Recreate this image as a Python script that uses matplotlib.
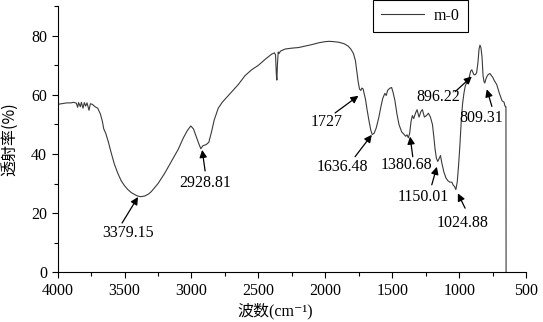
import matplotlib
matplotlib.use("Agg")
import matplotlib.pyplot as plt
from matplotlib.ticker import MultipleLocator

# IR spectrum of sample m-0
wavenumber = [4000, 3970, 3930, 3900, 3880, 3860, 3850, 3843, 3830, 3822, 3810, 3800,
              3790, 3780, 3765, 3755, 3740, 3720, 3700, 3680, 3665, 3655, 3640, 3620,
              3600, 3575, 3550, 3525, 3500, 3475, 3450, 3420, 3400, 3379, 3350, 3320,
              3300, 3250, 3200, 3150, 3100, 3060, 3030, 3005, 2985, 2965, 2945, 2930,
              2915, 2890, 2870, 2850, 2830, 2800, 2770, 2740, 2700, 2650, 2600, 2550,
              2500, 2450, 2400, 2380, 2372, 2366, 2362, 2358, 2352, 2345, 2335, 2300,
              2250, 2200, 2150, 2100, 2050, 2000, 1970, 1940, 1900, 1860, 1830, 1810,
              1790, 1775, 1765, 1755, 1745, 1735, 1727, 1718, 1710, 1700, 1690, 1675,
              1660, 1650, 1636, 1620, 1600, 1585, 1570, 1555, 1545, 1535, 1520, 1505,
              1495, 1480, 1465, 1450, 1430, 1415, 1400, 1390, 1380, 1370, 1360, 1350,
              1340, 1325, 1315, 1300, 1285, 1275, 1260, 1245, 1230, 1215, 1200, 1190,
              1180, 1170, 1160, 1150, 1140, 1130, 1115, 1100, 1085, 1070, 1055, 1045,
              1035, 1025, 1015, 1005, 995, 985, 975, 965, 955, 940, 925, 915, 906, 900,
              890, 880, 870, 860, 852, 845, 838, 830, 822, 815, 809, 800, 790, 780, 770,
              760, 750, 740, 720, 700, 680, 665, 660, 655, 651, 650]
transmittance = [56.8, 57.0, 57.3, 57.3, 57.5, 57.2, 55.8, 57.4, 56.0, 57.5, 55.5, 57.4,
                 56.2, 57.3, 54.8, 57.0, 56.8, 56.0, 55.5, 53.5, 51.0, 48.5, 47.0, 44.0,
                 40.5, 36.5, 33.5, 31.0, 29.3, 28.0, 27.0, 26.2, 25.8, 25.6, 25.8, 26.5,
                 27.3, 30.0, 33.5, 37.5, 41.5, 45.5, 48.0, 49.5, 48.5, 46.0, 43.5, 41.8,
                 42.8, 43.2, 44.0, 47.5, 51.5, 55.5, 57.5, 59.0, 61.0, 63.5, 66.5, 68.5,
                 70.0, 72.0, 73.8, 74.2, 73.5, 67.0, 65.0, 70.0, 74.5, 74.0, 74.8, 75.5,
                 75.8, 76.0, 76.5, 77.0, 77.6, 78.0, 78.1, 78.0, 77.8, 77.3, 76.5, 75.5,
                 74.0, 71.5, 68.0, 64.5, 62.0, 61.5, 62.3, 62.0, 60.5, 58.5, 55.5, 51.5,
                 48.0, 46.6, 47.0, 48.8, 52.5, 56.0, 59.0, 60.5, 59.8, 61.5, 62.2, 62.5,
                 61.0, 58.0, 53.5, 50.0, 47.5, 46.8, 46.0, 46.5, 45.5, 47.0, 51.0, 53.0,
                 52.0, 54.0, 55.0, 52.5, 54.5, 55.0, 52.5, 53.0, 53.8, 52.5, 50.0, 46.0,
                 41.5, 38.5, 37.5, 38.5, 39.5, 37.0, 34.0, 32.0, 31.0, 30.5, 30.5, 29.5,
                 29.0, 28.0, 30.5, 36.0, 43.0, 51.0, 57.0, 60.5, 63.0, 64.5, 66.0, 68.0,
                 68.5, 67.8, 66.8, 66.8, 67.5, 71.0, 75.5, 76.8, 76.0, 73.0, 66.5, 64.5,
                 64.0, 65.5, 66.5, 67.0, 67.2, 66.5, 66.0, 65.0, 63.5, 60.5, 58.0, 57.5,
                 56.5, 56.0, 56.0, 0.0]

# peak labels: text, text centre, arrow tail and arrow tip
peak_labels = ["3379.15", "2928.81", "1727", "1636.48", "1380.68",
               "1150.01", "1024.88", "896.22", "809.31"]
text_x = [3473, 2898, 1989, 1869, 1391, 1272, 973, 1155, 839]
text_y = [13.3, 30.3, 51.0, 35.7, 36.3, 25.6, 16.6, 59.4, 52.1]
tail_x = [3518, 2898, 1927, 1778, 1347, 1205, 956, 1030, 756]
tail_y = [16.7, 34.3, 53.9, 39.1, 39.1, 29.6, 21.7, 61.1, 56.1]
tip_x = [3399, 2920, 1753, 1653, 1367, 1167, 1010, 906, 794]
tip_y = [25.5, 41.4, 59.7, 46.5, 45.9, 35.7, 26.7, 66.2, 61.9]

plt.rcParams['font.family'] = ['Liberation Serif', 'Noto Sans CJK SC', 'DejaVu Serif']
plt.rcParams['font.size'] = 11.5

fig = plt.figure(figsize=(5.43, 3.22), dpi=100)
ax = fig.add_axes([0.106, 0.154, 0.863, 0.827])

ax.plot(wavenumber, transmittance, color='#3a3a3a', lw=0.8, label='m-0')

for lab, px, py in zip(peak_labels, text_x, text_y):
    ax.text(px, py, lab, ha='center', va='center')
for ax0, ay0, ax1, ay1 in zip(tail_x, tail_y, tip_x, tip_y):
    ax.annotate('', xy=(ax1, ay1), xytext=(ax0, ay0),
                arrowprops=dict(arrowstyle='-|>', color='k', lw=0.9,
                                mutation_scale=11, shrinkA=0, shrinkB=0))

ax.set_xlim(4000, 500)
ax.set_ylim(0, 90)
ax.xaxis.set_major_locator(MultipleLocator(500))
ax.xaxis.set_minor_locator(MultipleLocator(250))
ax.yaxis.set_minor_locator(MultipleLocator(10))
ax.set_yticks([0, 20, 40, 60, 80])
ax.tick_params(which='major', direction='out', length=4, width=0.8)
ax.tick_params(which='minor', direction='out', length=3, width=0.8)
ax.spines['top'].set_visible(False)
ax.spines['right'].set_visible(False)

ax.set_xlabel('波数(cm⁻¹)', family=['Liberation Serif', 'Noto Sans CJK SC', 'DejaVu Serif'])
ax.xaxis.set_label_coords(0.465, -0.115)
ax.set_ylabel('透射率(%)', family=['Noto Sans CJK SC', 'Liberation Serif'])
ax.yaxis.set_label_coords(-0.085, 0.5)

leg = ax.legend(loc='upper left', bbox_to_anchor=(0.687, 1.0),
                bbox_transform=fig.transFigure, fancybox=False,
                edgecolor='k', framealpha=1, handlelength=2.7,
                borderpad=0.5, handletextpad=0.6, borderaxespad=0)
leg.get_frame().set_linewidth(0.8)

fig.savefig('out.png', dpi=100)
